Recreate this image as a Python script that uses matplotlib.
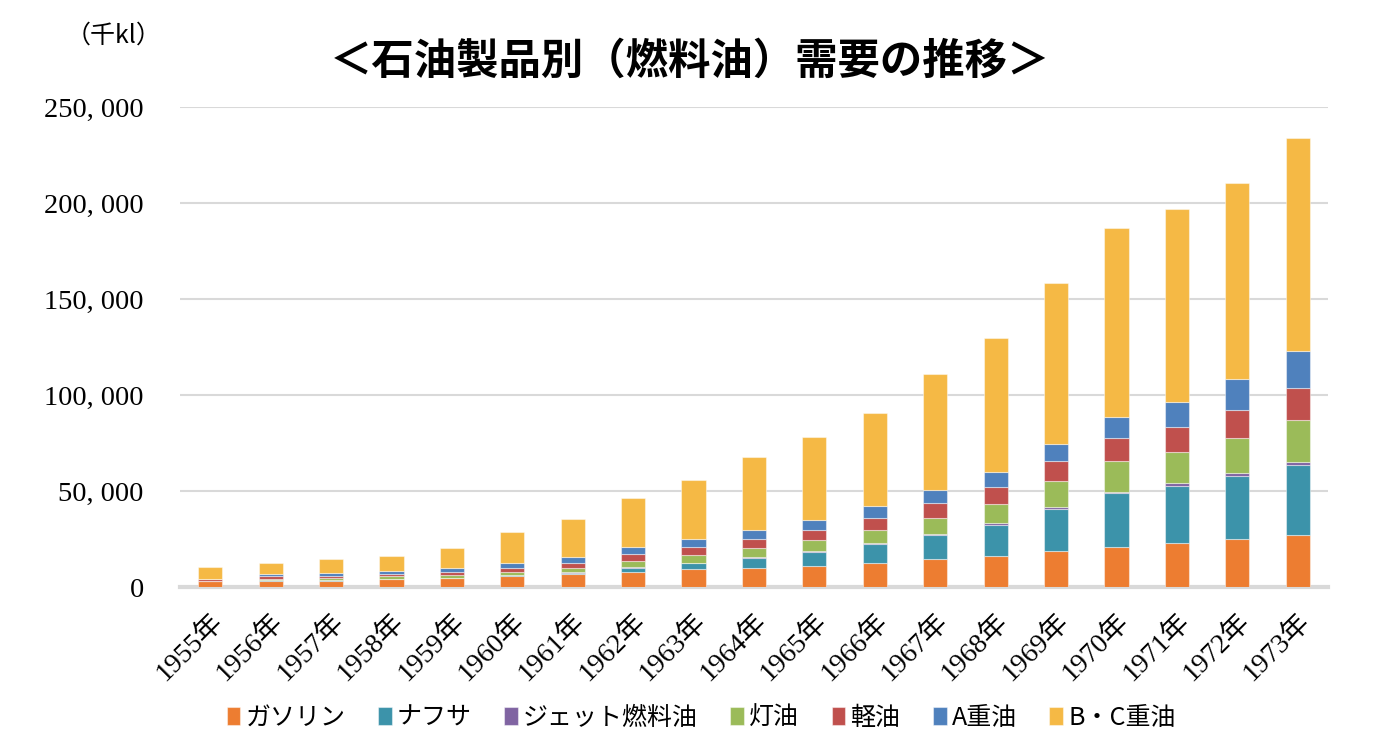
import numpy as np
import matplotlib
matplotlib.use("Agg")
import matplotlib.pyplot as plt
from matplotlib.ticker import FuncFormatter

plt.rcParams['font.family'] = ['Noto Sans CJK JP', 'DejaVu Sans']

# Data (thousand kl)
years = [str(y) + "年" for y in range(1955, 1974)]
gasoline = [3.0, 3.2, 3.3, 4.0, 4.6, 5.6, 6.9, 7.8, 9.2, 9.7, 10.8, 12.3, 14.4, 16.3, 18.8, 21.0, 22.9, 25.0, 27.1]
naphtha = [0.0, 0.2, 0.3, 0.3, 0.2, 0.5, 0.6, 2.2, 3.2, 5.6, 7.4, 10.0, 12.5, 16.0, 21.8, 27.8, 29.9, 32.8, 36.4]
jet_fuel = [0.0, 0.0, 0.1, 0.1, 0.1, 0.2, 0.2, 0.2, 0.3, 0.3, 0.4, 0.5, 0.7, 0.9, 1.1, 0.9, 1.2, 1.4, 1.6]
kerosene = [0.3, 0.9, 1.2, 1.1, 1.3, 1.5, 2.2, 3.3, 4.2, 4.7, 5.9, 7.0, 8.3, 10.0, 13.5, 15.9, 16.3, 18.2, 21.9]
light_oil = [0.7, 1.4, 1.0, 1.4, 1.8, 2.3, 2.4, 3.5, 4.1, 4.7, 5.3, 6.4, 8.0, 9.1, 10.4, 12.2, 12.8, 14.8, 16.8]
heavy_a = [0.2, 1.0, 1.4, 1.5, 1.9, 2.4, 3.5, 3.8, 4.2, 4.7, 5.3, 6.1, 6.6, 7.8, 8.9, 10.7, 13.5, 16.1, 19.3]
heavy_bc = [6.0, 5.8, 7.3, 7.8, 10.4, 16.1, 19.6, 25.4, 30.5, 38.0, 43.0, 48.4, 60.4, 69.6, 83.8, 98.5, 100.3, 102.1, 110.8]

labels = ["ガソリン", "ナフサ", "ジェット燃料油", "灯油", "軽油", "A重油", "B・C重油"]
series = [gasoline, naphtha, jet_fuel, kerosene, light_oil, heavy_a, heavy_bc]
colors = ["#ED7D31", "#3C93AA", "#8064A2", "#9BBB59", "#C0504D", "#4F81BD", "#F5B945"]

fig = plt.figure(figsize=(13.8, 7.5), dpi=100)
ax = fig.add_axes([0.1304, 0.2173, 0.8319, 0.64])

x = np.arange(len(years))
bottom = np.zeros(len(years))
for vals, lab, col in zip(series, labels, colors):
    v = np.array(vals) * 1000
    ax.bar(x, v, width=0.4, bottom=bottom, color=col, label=lab,
           edgecolor=(1, 1, 1, 0.45), linewidth=0.8, zorder=3)
    bottom += v

ax.set_xlim(-0.5, len(years) - 0.5)
ax.set_ylim(0, 250000)
ax.set_yticks(np.arange(0, 250001, 50000))
ax.yaxis.set_major_formatter(FuncFormatter(lambda v, p: "{:,}".format(int(v)).replace(",", ", ")))
ax.grid(axis='y', color='#d9d9d9', linewidth=1.5, zorder=0)
for s in ['top', 'right', 'left']:
    ax.spines[s].set_visible(False)
ax.spines['bottom'].set_color('#d9d9d9')
ax.spines['bottom'].set_linewidth(3)
ax.tick_params(axis='both', length=0)
ax.tick_params(axis='y', pad=26)
ax.tick_params(axis='x', pad=16)

ax.set_xticks(x)
ax.set_xticklabels(years, rotation=45, ha='right', rotation_mode='anchor',
                   family=['Liberation Serif', 'Noto Sans CJK JP'], fontsize=20)
for t in ax.get_yticklabels():
    t.set_family(['Liberation Serif', 'Noto Sans CJK JP'])
    t.set_fontsize(20.5)

fig.text(0.5, 0.917, "＜石油製品別（燃料油）需要の推移＞", ha='center', va='center',
         fontsize=30.5, fontweight='bold')
fig.text(0.082, 0.953, "（千kl）", ha='center', va='center', fontsize=18)

leg = fig.legend(loc='center', bbox_to_anchor=(0.508, 0.043), ncol=7, frameon=False,
                 fontsize=18, handlelength=0.55, handleheight=0.7, handletextpad=0.2,
                 columnspacing=1.3)

fig.savefig("out.png", dpi=100)
